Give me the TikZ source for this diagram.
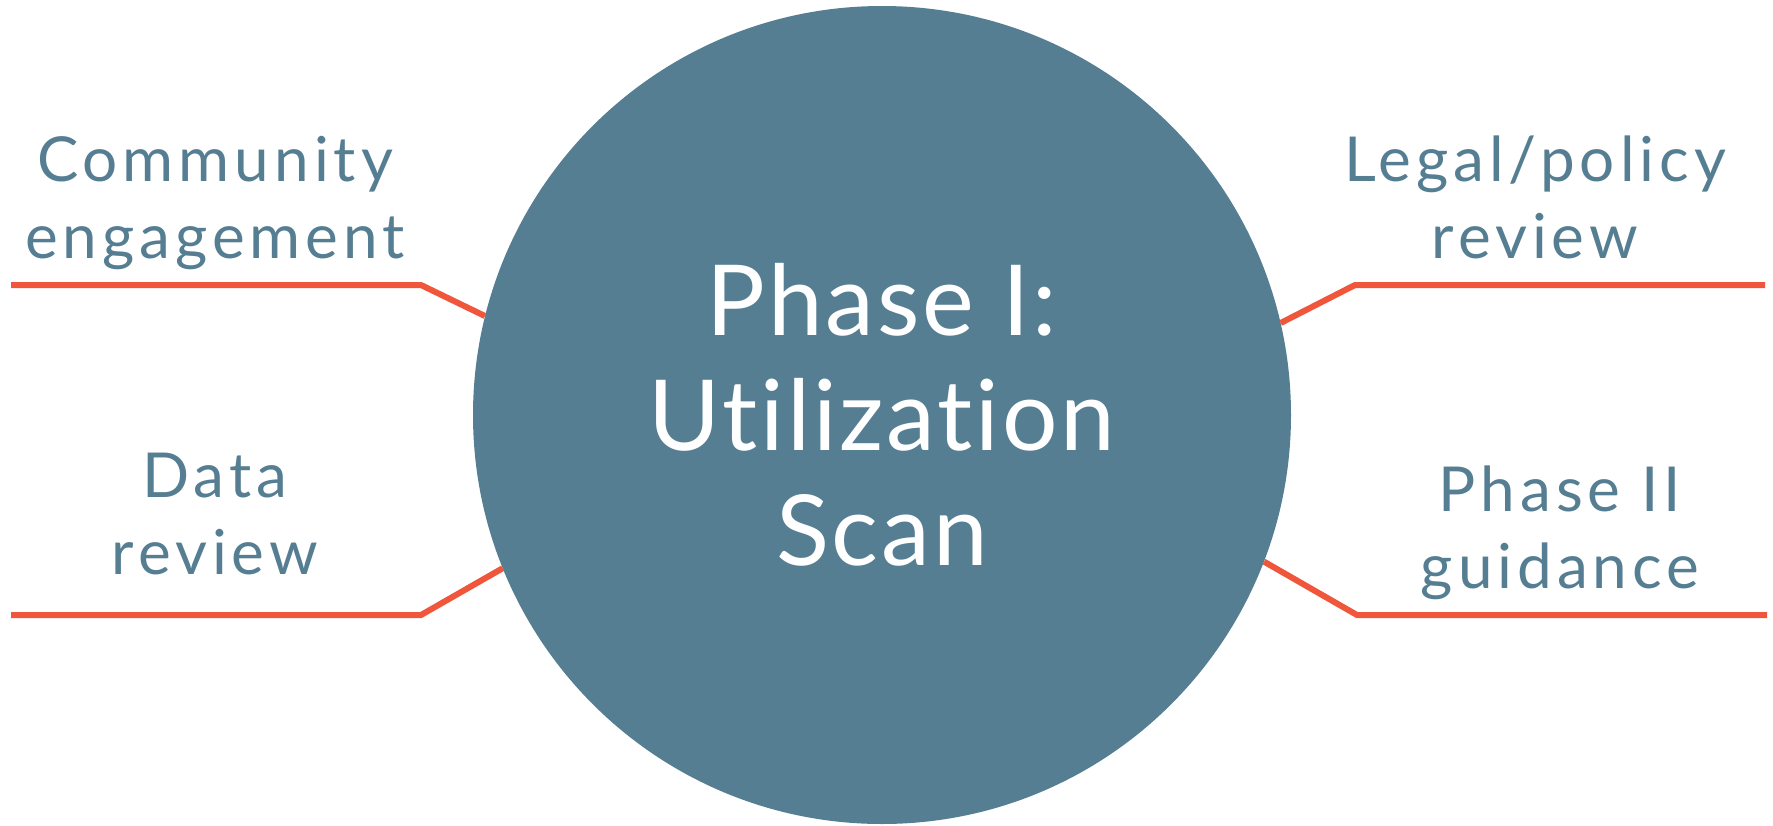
\documentclass[tikz,border=0pt]{standalone}
\usepackage{fontspec}
\setmainfont{Lato}[LetterSpace=8,Ligatures={NoCommon}]
\definecolor{slate}{HTML}{567E92}
\definecolor{redline}{HTML}{EF563B}
\begin{document}
\begin{tikzpicture}[x=1pt,y=-1pt,
  conn/.style={draw=redline,line width=6pt},
  side/.style={text=slate,align=center,anchor=base,inner sep=0pt,font=\fontsize{62}{77}\selectfont},
  hub/.style={circle,fill=slate,minimum size=818pt,inner sep=0pt}]
\useasboundingbox (0,0) rectangle (1773,825);
\node[hub] (c) at (882,415) {};
\node[text=white,align=center,anchor=base,inner sep=0pt,font=\fontsize{98}{115}\selectfont\addfontfeatures{LetterSpace=3}] (t) at (882,565) {Phase I:\\Utilization\\Scan};
\coordinate (lt0) at (11,285);
\coordinate (lt1) at (421,285);
\coordinate (lb0) at (11,615);
\coordinate (lb1) at (421,615);
\coordinate (rt0) at (1765,285);
\coordinate (rt1) at (1355,285);
\coordinate (rb0) at (1767,615);
\coordinate (rb1) at (1357,615);
\draw[conn] (lt0) -- (lt1) -- (c.166.5);
\draw[conn] (lb0) -- (lb1) -- (c.202.5);
\draw[conn] (rt0) -- (rt1) -- (c.13);
\draw[conn] (rb0) -- (rb1) -- (c.-21.3);
\node[side] (ce) at (215,258) {Community\\engagement};
\node[side] (dr) at (215,574) {Data\\review};
\node[side] (lp) at (1535,258) {Legal/policy\\review};
\node[side] (p2) at (1560,588) {Phase II\\guidance};
\end{tikzpicture}
\end{document}
